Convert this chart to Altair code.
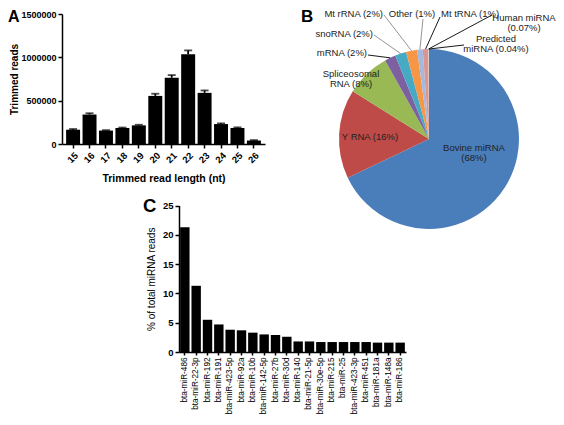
import altair as alt
import pandas as pd
import numpy as np

# ---------------- Data ----------------
# Panel A: trimmed read length distribution
lengths = ["15", "16", "17", "18", "19", "20", "21", "22", "23", "24", "25", "26"]
reads = [165000, 340000, 155000, 185000, 215000, 555000, 765000, 1035000, 590000, 230000, 185000, 40000]
reads_err = [8000, 15000, 5000, 5000, 7000, 25000, 30000, 45000, 28000, 8000, 7000, 5000]

# Panel B: composition of small RNA reads
pie_cats = ["Bovine miRNA", "Y RNA", "Spliceosomal RNA", "mRNA", "snoRNA", "Mt rRNA",
            "Other", "Mt tRNA", "Human miRNA", "Predicted miRNA"]
pie_values = [68, 16, 8, 2, 2, 2, 1, 1, 0.07, 0.04]
pie_texts = ["Bovine miRNA\n(68%)", "Y RNA (16%)", "Spliceosomal\nRNA (8%)", "mRNA (2%)",
             "snoRNA (2%)", "Mt rRNA (2%)", "Other (1%)", "Mt tRNA (1%)",
             "Human miRNA\n(0.07%)", "Predicted\nmiRNA (0.04%)"]

# Panel C: top miRNAs
mirnas = ["bta-miR-486", "bta-miR-22-3p", "bta-miR-192", "bta-miR-191", "bta-miR-423-5p",
          "bta-miR-92a", "bta-miR-10b", "bta-miR-142-5p", "bta-miR-27b", "bta-miR-30d",
          "bta-miR-140", "bta-miR-21-5p", "bta-miR-30e-5p", "bta-miR-215", "bta-miR-25",
          "bta-miR-423-3p", "bta-miR-451", "bta-miR-181a", "bta-miR-148a", "bta-miR-186"]
mirna_pct = [21.3, 11.3, 5.5, 4.7, 3.8, 3.7, 3.3, 3.0, 2.9, 2.6,
             1.8, 1.8, 1.7, 1.7, 1.7, 1.7, 1.7, 1.6, 1.6, 1.6]

panel_letters = ["A", "B", "C"]

# ---------------- Layout / style ----------------
FONT = "Liberation Sans"
W, H = 548, 409

pie_colors = ["#4A7EBB", "#BE4B48", "#98B954", "#7D60A0", "#46AAC5", "#F79646",
              "#A5B9DC", "#D99694", "#B7DEE8", "#FAC090"]
# pie geometry (svg px)
R, CX, CY = 90, 421, 131
# label anchors relative to pie centre (px, y up) and alignment
lab_dx = [45, -59, -78, -62, -56, -46, -17, 12, 95, 67]
lab_dy = [-8.5, 2, 65.5, 86, 105.5, 125, 125, 125, 121, 100.5]
lab_align = ["center", "center", "center", "right", "right", "right", "center", "left", "center", "center"]
# leader line ends (label side), None = no leader
lead_dx = [None, None, None, -61, -55, -45, -6, 11, 63, 35]
lead_dy = [None, None, None, 84, 104, 124, 120, 122, 124, 94]
lead_col = [None, None, None, "black", "#888888", "#888888", "#888888", "black", "black", "black"]

letter_x = [0, 293, 135]
letter_y = [14, 14, 204]
letter_size = [16, 17, 18.5]


def axis_style(**kw):
    base = dict(domainColor="black", domainWidth=1.5, tickColor="black", tickWidth=1.5,
                tickSize=4, labelColor="black", labelFont=FONT, titleFont=FONT,
                titleColor="black", grid=False, labelPadding=2, labelOverlap=False)
    base.update(kw)
    return alt.Axis(**base)


# ---------------- Panel A ----------------
dfA = pd.DataFrame({"len": lengths, "reads": reads,
                    "hi": [r + e for r, e in zip(reads, reads_err)]})

xA = alt.X("len:O", sort=lengths,
           scale=alt.Scale(range=[54, 257], paddingInner=0.15, paddingOuter=0.25),
           axis=axis_style(orient="bottom", offset=136 - H, labelAngle=315,
                           labelFontWeight="bold", labelFontSize=9.5,
                           title="Trimmed read length (nt)", titleFontWeight="bold",
                           titleFontSize=10.5, titlePadding=9))
yA_scale = alt.Scale(domain=[0, 1500000], range=[136, 6], nice=False)
yA = alt.Y("reads:Q", scale=yA_scale,
           axis=axis_style(orient="left", offset=-54, values=[0, 500000, 1000000, 1500000],
                           format="d", labelFontWeight="bold", labelFontSize=9,
                           title="Trimmed reads", titleFontWeight="bold",
                           titleFontSize=10, titlePadding=1))

barsA = alt.Chart(dfA).mark_bar(color="black").encode(x=xA, y=yA)
errA = alt.Chart(dfA).mark_rule(color="black", strokeWidth=1.8).encode(
    x=alt.X("len:O", sort=lengths), y=alt.Y("reads:Q"), y2="hi:Q")
capA = alt.Chart(dfA).mark_tick(color="black", size=8, thickness=1.8).encode(
    x=alt.X("len:O", sort=lengths), y=alt.Y("hi:Q"))
panelA = alt.layer(barsA, errA, capA)

# ---------------- Panel B ----------------
vals = np.array(pie_values, dtype=float)
cum = np.cumsum(vals)
mid = (cum - vals / 2) / vals.sum() * 2 * np.pi

dfPie = pd.DataFrame({"cat": pie_cats, "value": pie_values, "idx": list(range(len(pie_cats)))})
bx = alt.Scale(domain=[-R, R], range=[CX - R, CX + R], nice=False, zero=False)
by = alt.Scale(domain=[-R, R], range=[CY + R, CY - R], nice=False, zero=False)

arcB = alt.Chart(dfPie).mark_arc(radius=R).encode(
    theta=alt.Theta("value:Q", stack=True),
    color=alt.Color("cat:N", scale=alt.Scale(domain=pie_cats, range=pie_colors), legend=None),
    order=alt.Order("idx:Q"),
    x=alt.XDatum(0, type="quantitative", scale=bx, axis=None),
    y=alt.YDatum(0, type="quantitative", scale=by, axis=None),
)

rows = []
for i in range(len(pie_cats)):
    if lead_dx[i] is None:
        continue
    rows.append({"ex": R * np.sin(mid[i]), "ey": R * np.cos(mid[i]),
                 "lx": lead_dx[i], "ly": lead_dy[i], "lc": lead_col[i]})
dfLead = pd.DataFrame(rows)
leadB = alt.Chart(dfLead).mark_rule(strokeWidth=0.9).encode(
    x=alt.X("ex:Q", scale=bx, axis=None), y=alt.Y("ey:Q", scale=by, axis=None),
    x2="lx:Q", y2="ly:Q", stroke=alt.Stroke("lc:N", scale=None))

dfLab = pd.DataFrame({"t": pie_texts, "dx": lab_dx, "dy": lab_dy, "al": lab_align})
labB = []
for al in ["center", "right", "left"]:
    labB.append(
        alt.Chart(dfLab).transform_filter(alt.datum.al == al)
        .mark_text(align=al, baseline="middle", font=FONT, fontSize=9.5, color="#222222",
                   lineBreak="\n", lineHeight=10)
        .encode(x=alt.X("dx:Q", scale=bx, axis=None), y=alt.Y("dy:Q", scale=by, axis=None),
                text="t:N"))
panelB = alt.layer(arcB, leadB, *labB)

# ---------------- Panel C ----------------
dfC = pd.DataFrame({"mir": mirnas, "pct": mirna_pct})
xC = alt.X("mir:N", sort=mirnas,
           scale=alt.Scale(range=[171, 398], paddingInner=0.17, paddingOuter=0.1),
           axis=axis_style(orient="bottom", offset=344 - H, labelAngle=270, labelFontSize=8.2,
                           labelAlign="right", labelBaseline="middle", tickSize=3, title=None))
yC = alt.Y("pct:Q", scale=alt.Scale(domain=[0, 25], range=[344, 197.5], nice=False),
           axis=axis_style(orient="left", offset=-171, values=[0, 5, 10, 15, 20, 25],
                           labelFontWeight="bold", labelFontSize=9.5,
                           title="% of total miRNA reads", titleFontWeight="normal",
                           titleFontSize=10, titlePadding=6))
panelC = alt.Chart(dfC).mark_bar(color="black").encode(x=xC, y=yC)

# ---------------- Panel letters ----------------
dfL = pd.DataFrame({"letter": panel_letters, "lx": letter_x, "ly": letter_y, "fs": letter_size})
letters = alt.Chart(dfL).mark_text(align="left", baseline="alphabetic", font=FONT,
                                   fontWeight="bold", color="black").encode(
    x=alt.X("lx:Q", scale=None, axis=None), y=alt.Y("ly:Q", scale=None, axis=None),
    size=alt.Size("fs:Q", scale=None, legend=None), text="letter:N")

chart = alt.layer(panelA, panelB, panelC, letters).resolve_scale(
    x="independent", y="independent"
).properties(
    width=W, height=H, autosize=alt.AutoSizeParams(type="none"), padding=0
).configure_view(stroke=None)

chart.save("out.html", embed_options={"renderer": "svg", "actions": False})
